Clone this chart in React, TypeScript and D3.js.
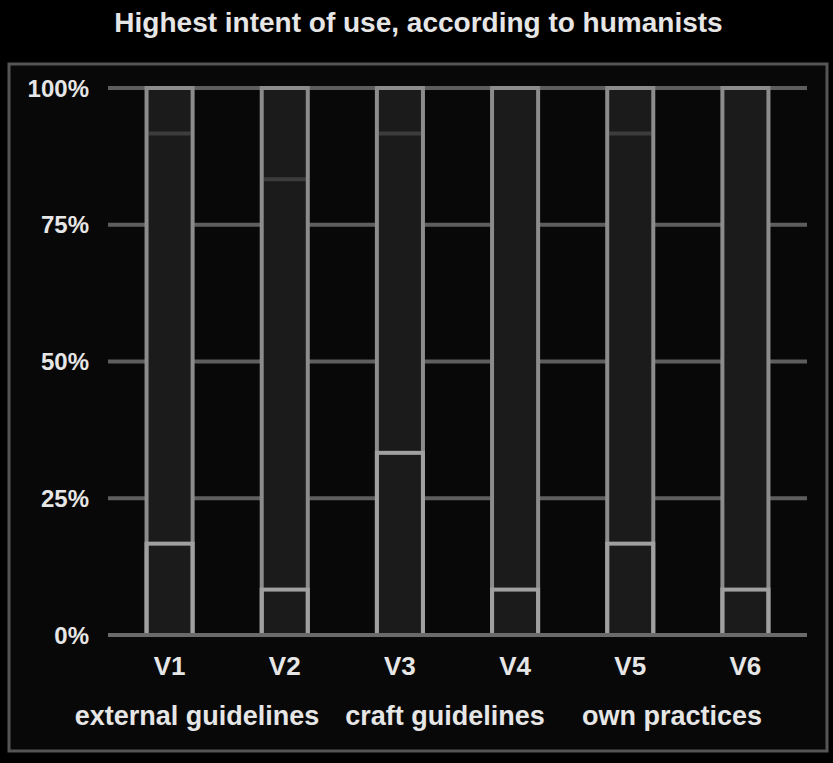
import { useEffect, useRef } from "react"
import * as d3 from "d3"

const title = "Highest intent of use, according to humanists"
const versions = ["V1", "V2", "V3", "V4", "V5", "V6"]
const groups = ["external guidelines", "craft guidelines", "own practices"]
// share of respondents per version (%), bottom to top
const highest = [16.7, 8.3, 33.3, 8.3, 16.7, 8.3]
const middle = [75.0, 75.0, 58.4, 91.7, 75.0, 91.7]
const lowest = [8.3, 16.7, 8.3, 0, 8.3, 0]
const yTicks = [0, 25, 50, 75, 100]

export default function App() {
  const svgRef = useRef<SVGSVGElement>(null)

  useEffect(() => {
    if (!svgRef.current) return

    const width = 833
    const height = 763
    const font = "Liberation Sans, Arial, sans-serif"
    const svg = d3.select(svgRef.current).attr("width", width).attr("height", height)
    svg.selectAll("*").remove()

    svg.append("rect").attr("width", width).attr("height", height).attr("fill", "#000")

    // outer frame
    svg
      .append("rect")
      .attr("x", 9)
      .attr("y", 64)
      .attr("width", 818)
      .attr("height", 687)
      .attr("fill", "#080808")
      .attr("stroke", "#555")
      .attr("stroke-width", 3)

    svg
      .append("text")
      .attr("x", width / 2 + 2)
      .attr("y", 32)
      .attr("text-anchor", "middle")
      .attr("fill", "#e6e6e6")
      .attr("font-family", font)
      .attr("font-weight", "bold")
      .attr("font-size", "28px")
      .text(title)

    const rows = versions.map((v, i) => ({ v, highest: highest[i], middle: middle[i], lowest: lowest[i] }))
    const keys = ["highest", "middle", "lowest"]
    const series = d3.stack<any>().keys(keys)(rows)

    const x = d3.scaleBand().domain(versions).range([112, 803]).paddingInner(0.6).paddingOuter(0.3)
    const y = d3.scaleLinear().domain([0, 100]).range([635, 88])

    // gridlines
    svg
      .append("g")
      .selectAll("line")
      .data(yTicks)
      .enter()
      .append("line")
      .attr("x1", 108)
      .attr("x2", 807)
      .attr("y1", (d) => y(d))
      .attr("y2", (d) => y(d))
      .attr("stroke", "#5e5e5e")
      .attr("stroke-width", 4)

    svg
      .append("g")
      .selectAll("text")
      .data(yTicks)
      .enter()
      .append("text")
      .attr("x", 89)
      .attr("y", (d) => y(d))
      .attr("dy", "0.36em")
      .attr("text-anchor", "end")
      .attr("fill", "#e6e6e6")
      .attr("font-family", font)
      .attr("font-weight", "bold")
      .attr("font-size", "24px")
      .text((d) => `${d}%`)

    const bw = x.bandwidth()

    // segment fills
    const layers = svg.append("g")
    series.forEach((s) => {
      layers
        .append("g")
        .selectAll("rect")
        .data(s)
        .enter()
        .append("rect")
        .attr("x", (d: any) => x(d.data.v)!)
        .attr("y", (d) => y(d[1]))
        .attr("width", bw)
        .attr("height", (d) => y(d[0]) - y(d[1]))
        .attr("fill", "#1b1b1b")
    })

    // faint boundary between middle and lowest segments
    layers
      .append("g")
      .selectAll("line")
      .data(series[2].filter((d) => d[1] - d[0] > 0))
      .enter()
      .append("line")
      .attr("x1", (d: any) => x(d.data.v)! + 2)
      .attr("x2", (d: any) => x(d.data.v)! + bw - 2)
      .attr("y1", (d) => y(d[0]))
      .attr("y2", (d) => y(d[0]))
      .attr("stroke", "#3c3c3c")
      .attr("stroke-width", 4)

    // bar outlines
    layers
      .append("g")
      .selectAll("rect")
      .data(series[2])
      .enter()
      .append("rect")
      .attr("x", (d: any) => x(d.data.v)!)
      .attr("y", (d) => y(d[1]))
      .attr("width", bw)
      .attr("height", (d) => y(0) - y(d[1]))
      .attr("fill", "none")
      .attr("stroke", "#8c8c8c")
      .attr("stroke-width", 4)

    // highest-intent segment outline
    layers
      .append("g")
      .selectAll("rect")
      .data(series[0])
      .enter()
      .append("rect")
      .attr("x", (d: any) => x(d.data.v)!)
      .attr("y", (d) => y(d[1]))
      .attr("width", bw)
      .attr("height", (d) => y(d[0]) - y(d[1]))
      .attr("fill", "none")
      .attr("stroke", "#a0a0a0")
      .attr("stroke-width", 4)

    svg
      .append("line")
      .attr("x1", 108)
      .attr("x2", 807)
      .attr("y1", y(0))
      .attr("y2", y(0))
      .attr("stroke", "#6a6a6a")
      .attr("stroke-width", 4)

    svg
      .append("g")
      .selectAll("text")
      .data(versions)
      .enter()
      .append("text")
      .attr("x", (d) => x(d)! + bw / 2)
      .attr("y", 675)
      .attr("text-anchor", "middle")
      .attr("fill", "#e6e6e6")
      .attr("font-family", font)
      .attr("font-weight", "bold")
      .attr("font-size", "26px")
      .text((d) => d)

    // group labels sit as one spaced line under the version labels
    const groupX = [197, 445, 672]
    svg
      .append("g")
      .selectAll("text")
      .data(groups)
      .enter()
      .append("text")
      .attr("x", (d, i) => groupX[i])
      .attr("y", 725)
      .attr("text-anchor", "middle")
      .attr("fill", "#e6e6e6")
      .attr("font-family", font)
      .attr("font-weight", "bold")
      .attr("font-size", "27px")
      .text((d) => d)
  }, [])

  return (
    <div style={{ position: "fixed", left: 0, top: 0, width: 833, height: 763, background: "#000" }}>
      <svg ref={svgRef} style={{ display: "block" }} />
    </div>
  )
}
